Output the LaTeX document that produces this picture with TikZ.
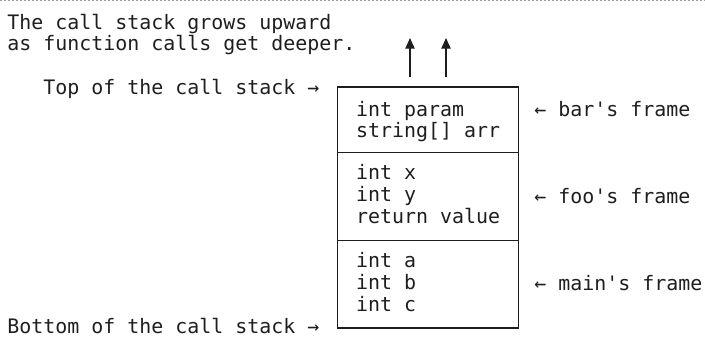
\documentclass[tikz,border=0pt]{standalone}
\usepackage{fontspec}
\setmonofont{DejaVu Sans Mono}
\usetikzlibrary{arrows.meta}
\definecolor{ink}{HTML}{1E1E1E}
\definecolor{rulegray}{HTML}{9C9C9C}
% one frame's variables, left aligned, first baseline on top
\newcommand{\framevars}[1]{%
  \makebox[108pt][l]{\begin{tabular}[t]{@{}l@{}}#1\end{tabular}}}

\begin{document}
\begin{tikzpicture}[x=0.75pt,y=-0.75pt,
  font=\ttfamily\fontsize{14.95pt}{16.3pt}\selectfont,
  >={Triangle[width=7pt,length=8pt]},
  txt/.style={anchor=base west,inner sep=0pt,text=ink},
  stackframe/.style={draw=ink,line width=1.2pt,minimum width=136pt,
    inner xsep=14pt,inner ysep=0pt,text=ink,text height=12pt}]
  \useasboundingbox (0,0) rectangle (705,337);
  \draw[rulegray,line width=1pt,dash pattern=on 1.5pt off 1.5pt]
    (0,0.7) -- (705,0.7);

  % Caption in the top left corner.
  \node[txt] (capA) at (7,29) {The call stack grows upward};
  \node[txt] (capB) at (7,50.75) {as function calls get deeper.};

  % Growth arrows above the stack.
  \coordinate (stemA) at (410,77);
  \coordinate (tipA) at (410,38);
  \coordinate (stemB) at (446,77);
  \coordinate (tipB) at (446,38);
  \draw[->,ink,line width=1pt] (stemA) -- (tipA);
  \draw[->,ink,line width=1pt] (stemB) -- (tipB);

  % The frames, newest on top.
  \node[stackframe,minimum height=49.1pt,text depth=17.6pt] (barframe)
    at (428,119.75) {\framevars{int param\\string[] arr}};
  \node[stackframe,minimum height=66pt,text depth=36.8pt] (fooframe)
    at (428,196.5) {\framevars{int x\\int y\\return value}};
  \node[stackframe,minimum height=65.6pt,text depth=36.4pt] (mainframe)
    at (428,284.25) {\framevars{int a\\int b\\int c}};

  \node[txt] (toplabel) at (43,94.25) {Top of the call stack →};
  \node[txt] (bottomlabel) at (7,333) {Bottom of the call stack →};

  \node[txt] (barlabel) at (534,116) {← bar's frame};
  \node[txt] (foolabel) at (534,203) {← foo's frame};
  \node[txt] (mainlabel) at (534,290) {← main's frame};
\end{tikzpicture}
\end{document}
